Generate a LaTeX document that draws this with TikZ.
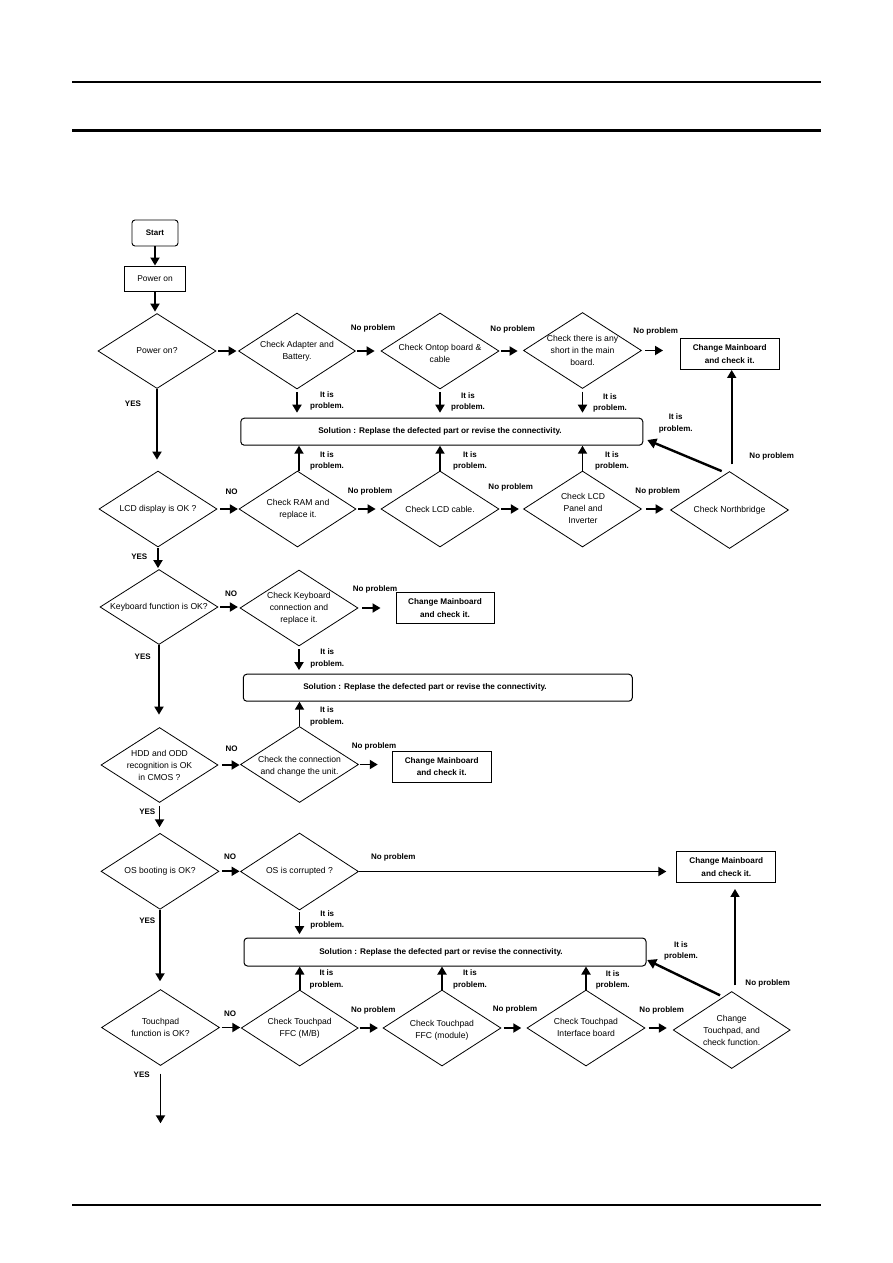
\documentclass[tikz,border=0pt]{standalone}
\usepackage{fontspec}
\setmainfont{Liberation Sans}
\usetikzlibrary{arrows.meta,shapes.geometric}
\tikzset{
  dia/.style={draw, shape=diamond, inner sep=0pt, minimum width=118pt, minimum height=76pt, line width=0.8pt},
  dtext/.style={font=\fontsize{8.6}{12}\selectfont, align=center, inner sep=0pt},
  cbox/.style={draw, rectangle, inner sep=0pt, minimum width=99pt, minimum height=31pt, line width=0.9pt, font=\fontsize{8.2}{12.2}\selectfont\bfseries, align=center},
  solbox/.style={draw, rectangle, rounded corners=3.5pt, inner sep=0pt, minimum height=27pt, line width=1pt},
  soltext/.style={font=\fontsize{8.2}{10}\selectfont\bfseries, inner sep=0pt},
  lab/.style={font=\fontsize{8}{11.5}\selectfont\bfseries, align=center, inner sep=0pt},
  arr/.style={line width=1.8pt, -{Triangle[length=8pt,width=9pt]}},
  darr/.style={line width=2.4pt, -{Triangle[length=9pt,width=10pt]}},
}
\begin{document}
\begin{tikzpicture}[x=1pt,y=-1pt]
\useasboundingbox (0,0) rectangle (893,1263);
\fill[white] (0,0) rectangle (893,1263);
% page rules
\draw[line width=2pt] (72,81.7) -- (821,81.7);
\draw[line width=3pt] (72,130.3) -- (821,130.3);
\draw[line width=2pt] (72,1204.7) -- (821,1204.7);

% start
\node[draw, rounded corners=3pt, minimum width=46pt, minimum height=26pt, inner sep=0pt, line width=0.9pt, font=\fontsize{8}{10}\selectfont\bfseries] (start) at (155,233) {Start};
\node[draw, minimum width=61pt, minimum height=25pt, inner sep=0pt, line width=0.9pt, font=\fontsize{8.4}{10}\selectfont] (power) at (155,278.5) {Power on};

% row 1
\node[dia, minimum width=118pt, minimum height=75pt] (d1) at (157,351) {};
\node[dtext] (d1t) at (d1) {Power on?};
\node[dia, minimum width=117pt] (adapter) at (297,351) {};
\node[dtext] (adaptert) at (adapter) {Check Adapter and\\Battery.};
\node[dia] (ontop) at (440,351) {};
\node[dtext] (ontopt) at (440,353) {Check Ontop board \&\\cable};
\node[dia] (short) at (582.5,350.5) {};
\node[dtext] (shortt) at (582.5,350.5) {Check there is any\\short in the main\\board.};
\node[cbox] (cm1) at (729.7,354) {Change Mainboard\\and check it.};

\node[solbox, minimum width=402pt] (s1) at (441.8,431.7) {};
\node[soltext] (s1t) at (440,431.5) {Solution : Replase the defected part or revise the connectivity.};

% row 2
\node[dia] (lcd) at (158,509) {};
\node[dtext] (lcdt) at (lcd) {LCD display is OK ?};
\node[dia, minimum width=117pt] (ram) at (297.5,509) {};
\node[dtext] (ramt) at (298,509.5) {Check RAM and\\replace it.};
\node[dia] (cable) at (440,509) {};
\node[dtext] (cablet) at (cable) {Check LCD cable.};
\node[dia] (panel) at (582.5,509) {};
\node[dtext] (panelt) at (583,508) {Check LCD\\Panel and\\Inverter};
\node[dia, minimum height=77pt] (nb) at (729.5,510) {};
\node[dtext] (nbt) at (nb) {Check Northbridge};

% row 3
\node[dia, minimum height=75pt] (kb) at (159,607) {};
\node[dtext] (kbt) at (kb) {Keyboard function is OK?};
\node[dia] (ckb) at (299,608) {};
\node[dtext] (ckbt) at (ckb) {Check Keyboard\\connection and\\replace it.};
\node[cbox, minimum width=98pt] (cm2) at (445,608) {Change Mainboard\\and check it.};

\node[solbox, minimum width=389pt] (s2) at (437.8,687.7) {};
\node[soltext] (s2t) at (425,687.5) {Solution : Replase the defected part or revise the connectivity.};

% row 4
\node[dia, minimum width=117pt, minimum height=75pt] (hdd) at (159.5,765) {};
\node[dtext] (hddt) at (hdd) {HDD and ODD\\recognition is OK\\in CMOS ?};
\node[dia] (conn) at (299.5,764.5) {};
\node[dtext] (connt) at (299.5,766) {Check the connection\\and change the unit.};
\node[cbox] (cm3) at (441.7,766.7) {Change Mainboard\\and check it.};

% row 5
\node[dia] (os) at (160,871.3) {};
\node[dtext] (ost) at (os) {OS booting is OK?};
\node[dia, minimum height=77pt] (osc) at (299.5,871.5) {};
\node[dtext] (osct) at (osc) {OS is corrupted ?};
\node[cbox] (cm4) at (726.3,867) {Change Mainboard\\and check it.};

\node[solbox, minimum width=402pt, minimum height=28pt] (s3) at (445,952) {};
\node[soltext] (s3t) at (441,952) {Solution : Replase the defected part or revise the connectivity.};

% row 6
\node[dia] (tp) at (160.5,1027.5) {};
\node[dtext] (tpt) at (tp) {Touchpad\\function is OK?};
\node[dia, minimum width=117pt] (ffcmb) at (299.7,1028) {};
\node[dtext] (ffcmbt) at (ffcmb) {Check Touchpad\\FFC (M/B)};
\node[dia] (ffcmod) at (442,1028) {};
\node[dtext] (ffcmodt) at (442,1030) {Check Touchpad\\FFC (module)};
\node[dia] (iface) at (586,1028) {};
\node[dtext] (ifacet) at (586,1027) {Check Touchpad\\Interface board};
\node[dia, minimum width=117pt, minimum height=77pt] (ctp) at (731.7,1030) {};
\node[dtext] (ctpt) at (ctp) {Change\\Touchpad, and\\check function.};
\coordinate (tpend) at (160.5,1123.3);

% ---- connectors ----
\draw[arr] (start.south) -- (start.south |- power.north);
\draw[arr, shorten >=1.5pt] (power.south) -- (power.south |- d1.north);
\draw[arr, shorten >=11pt] (d1.south) -- (d1.south |- lcd.north);
\draw[arr, shorten <=2pt, shorten >=1.6pt] (d1.east) -- (d1.east -| adapter.west);
\draw[arr, shorten <=1.2pt, shorten >=6pt] (adapter.east) -- (adapter.east -| ontop.west);
\draw[arr, shorten <=2pt, shorten >=5.5pt] (ontop.east) -- (ontop.east -| short.west);
\draw[arr, shorten <=3.5pt, shorten >=16.7pt] (short.east) -- (short.east -| cm1.west);
\draw[arr, shorten <=2.7pt, shorten >=5pt] (adapter.south) -- (adapter.south |- s1.north);
\draw[arr, shorten <=2.7pt, shorten >=5pt] (ontop.south) -- (ontop.south |- s1.north);
\draw[arr, shorten <=2.7pt, shorten >=5pt] (short.south) -- (short.south |- s1.north);
\draw[arr] ([xshift=1.5pt]ram.north) -- ([xshift=1.5pt]ram.north |- s1.south);
\draw[arr] (cable.north) -- (cable.north |- s1.south);
\draw[arr] (panel.north) -- (panel.north |- s1.south);
\draw[darr] ([xshift=-7.8pt]nb.north) -- ([xshift=4pt,yshift=-8.3pt]s1.east);
\coordinate (nbv) at ([xshift=2.2pt]nb.north);
\draw[arr, line width=1.6pt, shorten <=6.7pt] (nbv) -- (nbv |- cm1.south);

\draw[arr, shorten <=3pt, shorten >=0.7pt] (lcd.east) -- (lcd.east -| ram.west);
\draw[arr, shorten <=1.7pt, shorten >=5pt] (ram.east) -- (ram.east -| cable.west);
\draw[arr, shorten <=1.7pt, shorten >=4.2pt] (cable.east) -- (cable.east -| panel.west);
\draw[arr, shorten <=4.2pt, shorten >=6.5pt] (panel.east) -- (panel.east -| nb.west);
\draw[arr, shorten <=1pt, shorten >=1pt] (lcd.south) -- (lcd.south |- kb.north);

\draw[arr, shorten <=2pt, shorten >=1.7pt] (kb.east) -- (kb.east -| ckb.west);
\draw[arr, shorten <=3.7pt, shorten >=15pt] (ckb.east) -- (ckb.east -| cm2.west);
\draw[arr, shorten <=3pt, shorten >=3.6pt] (ckb.south) -- (ckb.south |- s2.north);
\draw[arr] (conn.north) -- (conn.north |- s2.south);
\draw[arr, shorten >=12.5pt] (kb.south) -- (kb.south |- hdd.north);

\draw[arr, shorten <=3.5pt, shorten >=0.5pt] (hdd.east) -- (hdd.east -| conn.west);
\draw[arr, shorten <=1.5pt, shorten >=14pt] (conn.east) -- (conn.east -| cm3.west);
\draw[arr, shorten <=3.5pt, shorten >=5.6pt] (hdd.south) -- (hdd.south |- os.north);

\draw[arr, shorten <=2.7pt, shorten >=0.5pt] (os.east) -- (os.east -| osc.west);
\draw[arr, shorten >=10pt] (osc.east) -- (osc.east -| cm4.west);
\draw[arr, shorten <=1.7pt, shorten >=3.3pt] (osc.south) -- (osc.south |- s3.north);
\draw[arr, shorten >=7.8pt] (os.south) -- (os.south |- tp.north);

\draw[arr] (ffcmb.north) -- (ffcmb.north |- s3.south);
\draw[arr] (ffcmod.north) -- (ffcmod.north |- s3.south);
\draw[arr] (iface.north) -- (iface.north |- s3.south);
\draw[darr] ([xshift=-11.7pt,yshift=-4.2pt]ctp.north) -- ([xshift=0.7pt,yshift=-8pt]s3.east);
\coordinate (ctpv) at ([xshift=3.3pt]ctp.north);
\draw[arr, line width=1.6pt, shorten <=5.8pt, shorten >=6pt] (ctpv) -- (ctpv |- cm4.south);

\draw[arr, shorten <=1.7pt, shorten >=0.5pt] (tp.east) -- (tp.east -| ffcmb.west);
\draw[arr, shorten <=1.1pt, shorten >=4.7pt] (ffcmb.east) -- (ffcmb.east -| ffcmod.west);
\draw[arr, shorten <=2.3pt, shorten >=5.3pt] (ffcmod.east) -- (ffcmod.east -| iface.west);
\draw[arr, shorten <=3.3pt, shorten >=6pt] (iface.east) -- (iface.east -| ctp.west);
\draw[arr, shorten <=7.8pt] (tp.south) -- (tp.south |- tpend);

% ---- labels ----
\node[lab] (y1) at (133,404) {YES};
\node[lab] (y2) at (139.3,556.7) {YES};
\node[lab] (y3) at (142.7,656.7) {YES};
\node[lab] (y4) at (147.3,811.7) {YES};
\node[lab] (y5) at (147.3,921) {YES};
\node[lab] (y6) at (141.7,1075) {YES};
\node[lab] (n1) at (231.7,491.7) {NO};
\node[lab] (n2) at (231,593.3) {NO};
\node[lab] (n3) at (231.7,748.3) {NO};
\node[lab] (n4) at (230,856.7) {NO};
\node[lab] (n5) at (230,1013.3) {NO};

\node[lab] (np1) at (373,328.7) {No problem};
\node[lab] (np2) at (512.7,329) {No problem};
\node[lab] (np3) at (655.7,331) {No problem};
\node[lab] (np4) at (370,491) {No problem};
\node[lab] (np5) at (510.7,487.7) {No problem};
\node[lab] (np6) at (657.7,491) {No problem};
\node[lab] (np7) at (771.7,456) {No problem};
\node[lab] (np8) at (375,589.3) {No problem};
\node[lab] (np9) at (374,746.7) {No problem};
\node[lab] (np10) at (393.3,857.3) {No problem};
\node[lab] (np11) at (373.3,1010) {No problem};
\node[lab] (np12) at (515,1009) {No problem};
\node[lab] (np13) at (661.7,1010) {No problem};
\node[lab] (np14) at (767.7,983.3) {No problem};

\node[lab] (p1) at (327,401) {It is\\problem.};
\node[lab] (p2) at (468,402) {It is\\problem.};
\node[lab] (p3) at (610,403) {It is\\problem.};
\node[lab] (p4) at (327,461) {It is\\problem.};
\node[lab] (p5) at (470,461) {It is\\problem.};
\node[lab] (p6) at (612,461) {It is\\problem.};
\node[lab] (p7) at (675.7,423.5) {It is\\problem.};
\node[lab] (p8) at (327.3,658.3) {It is\\problem.};
\node[lab] (p9) at (327,716.5) {It is\\problem.};
\node[lab] (p10) at (327.3,920) {It is\\problem.};
\node[lab] (p11) at (326.5,979.5) {It is\\problem.};
\node[lab] (p12) at (470,979.5) {It is\\problem.};
\node[lab] (p13) at (612.7,980) {It is\\problem.};
\node[lab] (p14) at (681,951) {It is\\problem.};
\end{tikzpicture}
\end{document}
